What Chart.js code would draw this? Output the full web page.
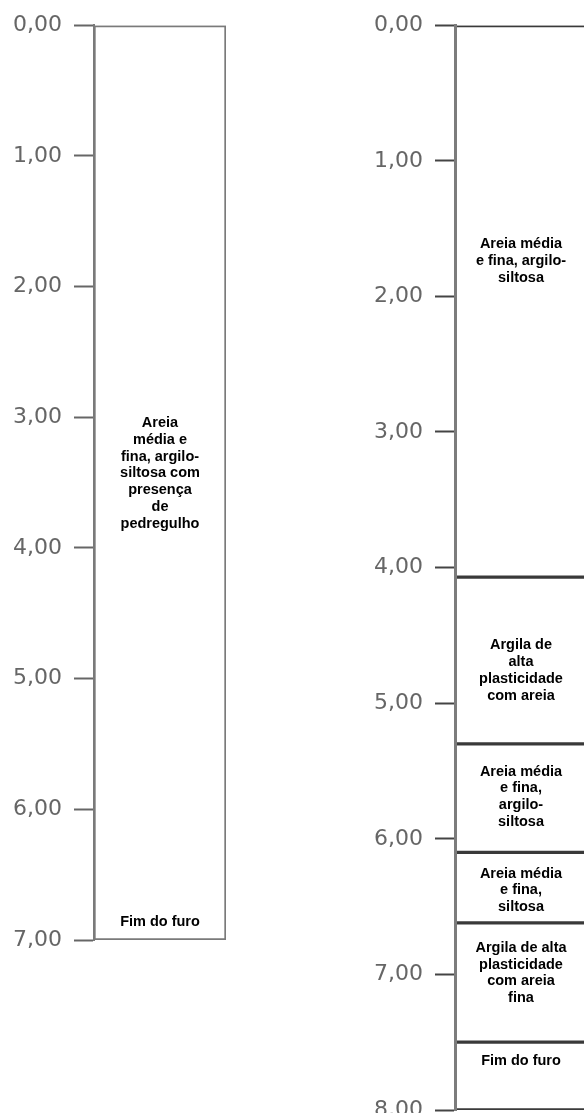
<!DOCTYPE html>
<html>
<head>
<meta charset="utf-8">
<script src="https://cdn.jsdelivr.net/npm/chart.js@4/dist/chart.umd.min.js"></script>
<style>
  html, body { margin: 0; padding: 0; background: #fff; overflow: hidden; width: 584px; height: 1113px; }
  canvas { position: absolute; top: 0; }
  #left { left: 0; }
  #right { left: 361px; }
</style>
</head>
<body>
<canvas id="left" width="240" height="975"></canvas>
<canvas id="right" width="240" height="1140"></canvas>
<script>
// ---- Data: borehole 1 (left) ----
const leftTickLabels = ['0,00','1,00','2,00','3,00','4,00','5,00','6,00','7,00'];
const leftLayerTops = [0.00];
const leftLayerBottoms = [7.00];
const leftLabelDepths = [3.43, 6.86];
const leftLabelLines = [
  ['Areia', 'média e', 'fina, argilo-', 'siltosa com', 'presença', 'de', 'pedregulho'],
  ['Fim do furo']
];

// ---- Data: borehole 2 (right) ----
const rightTickLabels = ['0,00','1,00','2,00','3,00','4,00','5,00','6,00','7,00','8,00'];
const rightLayerTops = [0.00, 4.07, 5.30, 6.10, 6.62, 7.50];
const rightLayerBottoms = [4.07, 5.30, 6.10, 6.62, 7.50, 8.00];
const rightLabelDepths = [1.74, 4.76, 5.69, 6.38, 6.99, 7.64];
const rightLabelLines = [
  ['Areia média', 'e fina, argilo-', 'siltosa'],
  ['Argila de', 'alta', 'plasticidade', 'com areia'],
  ['Areia média', 'e fina,', 'argilo-', 'siltosa'],
  ['Areia média', 'e fina,', 'siltosa'],
  ['Argila de alta', 'plasticidade', 'com areia', 'fina'],
  ['Fim do furo']
];

const labelPlugin = {
  id: 'layerLabels',
  afterDatasetsDraw(chart, args, opts) {
    const ctx = chart.ctx;
    const yScale = chart.scales.y;
    const area = chart.chartArea;
    const cx = (area.left + area.right) / 2;
    const lh = 16.8;
    ctx.save();
    ctx.fillStyle = '#000';
    ctx.font = 'bold 14.5px "Liberation Sans", Arial, sans-serif';
    ctx.textAlign = 'center';
    ctx.textBaseline = 'middle';
    opts.depths.forEach((d, i) => {
      const lines = opts.lines[i];
      const yc = yScale.getPixelForValue(d);
      lines.forEach((t, j) => {
        ctx.fillText(t, cx, yc + (j - (lines.length - 1) / 2) * lh);
      });
    });
    ctx.restore();
  }
};

function makeLog(id, tops, bottoms, tickLabels, depths, lines, cfg) {
  const maxDepth = tickLabels.length - 1;
  const datasets = tops.map((t, i) => ({
    data: [[t, bottoms[i]]],
    backgroundColor: '#ffffff',
    borderColor: cfg.layerColor,
    borderWidth: cfg.borderWidth,
    borderSkipped: false,
    barPercentage: 1,
    categoryPercentage: 1
  }));
  return new Chart(document.getElementById(id), {
    type: 'bar',
    data: { labels: [''], datasets },
    plugins: [labelPlugin],
    options: {
      responsive: false,
      animation: false,
      events: [],
      layout: { padding: { top: cfg.padTop, bottom: cfg.padBottom, left: 0, right: 14 } },
      plugins: {
        legend: { display: false },
        tooltip: { enabled: false },
        layerLabels: { depths, lines }
      },
      scales: {
        x: { display: false, stacked: true },
        y: {
          reverse: true,
          min: 0,
          max: maxDepth,
          stacked: false,
          afterFit(scale) { scale.width = 94; },
          ticks: {
            stepSize: 1,
            padding: 12,
            color: '#666',
            font: { family: '"DejaVu Sans", sans-serif', size: 22 },
            callback: (v) => tickLabels[Math.round(v)]
          },
          grid: {
            drawOnChartArea: false,
            drawTicks: true,
            tickLength: 20,
            tickWidth: 2,
            tickColor: cfg.tickColor
          },
          border: { display: true, color: cfg.axisColor, width: cfg.axisWidth, z: 1 }
        }
      }
    }
  });
}

makeLog('left', leftLayerTops, leftLayerBottoms, leftTickLabels, leftLabelDepths, leftLabelLines,
  { layerColor: '#7a7a7a', borderWidth: 2, padTop: 25, padBottom: 35, tickColor: '#666', axisColor: '#7a7a7a', axisWidth: 2 });
makeLog('right', rightLayerTops, rightLayerBottoms, rightTickLabels, rightLabelDepths, rightLabelLines,
  { layerColor: '#3a3a3a', borderWidth: { top: 2, bottom: 2, left: 0, right: 2 }, padTop: 23, padBottom: 30, tickColor: '#444', axisColor: '#7c7c7c', axisWidth: 3 });
</script>
</body>
</html>
